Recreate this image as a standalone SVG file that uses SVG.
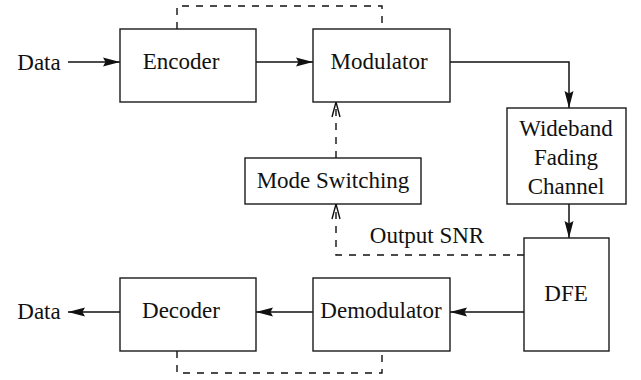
<svg xmlns="http://www.w3.org/2000/svg" width="641" height="380" viewBox="0 0 641 380">
<style>
.box{fill:#fff;stroke:#1a1a1a;stroke-width:1.4}
.t{font-family:"Liberation Serif","Times New Roman",serif;font-size:23px;fill:#111;text-anchor:middle}
.ln{fill:none;stroke:#111;stroke-width:1.5}
.ds{fill:none;stroke:#111;stroke-width:1.4;stroke-dasharray:7 7}
</style>
<defs>
<marker id="ah" markerWidth="18" markerHeight="12" refX="17" refY="6" orient="auto" markerUnits="userSpaceOnUse">
<path d="M0,1.5 L17,6 L0,10.5 L2.5,6 Z" fill="#111"/>
</marker>
<marker id="oh" markerWidth="18" markerHeight="12" refX="16" refY="6" orient="auto" markerUnits="userSpaceOnUse">
<path d="M1,2 L16,6 L1,10" fill="none" stroke="#111" stroke-width="1.4"/>
</marker>
</defs>
<g id="connectors">
<line class="ln" x1="68" y1="62" x2="120" y2="62" marker-end="url(#ah)"/>
<line class="ln" x1="256" y1="62" x2="313" y2="62" marker-end="url(#ah)"/>
<polyline class="ln" points="450,62 569,62 569,108" marker-end="url(#ah)"/>
<line class="ln" x1="569" y1="204" x2="569" y2="238" marker-end="url(#ah)"/>
<line class="ln" x1="524" y1="312" x2="450" y2="312" marker-end="url(#ah)"/>
<line class="ln" x1="313" y1="312" x2="256" y2="312" marker-end="url(#ah)"/>
<line class="ln" x1="120" y1="312" x2="68" y2="312" marker-end="url(#ah)"/>
<polyline class="ds" points="177,29 177,6 382,6 382,29"/>
<polyline class="ds" points="177,351 177,373 382,373 382,351"/>
<line class="ds" x1="336" y1="158" x2="336" y2="102" marker-end="url(#oh)"/>
<polyline class="ds" points="524,255 336,255 336,204" marker-end="url(#oh)"/>
</g>
<text class="t" x="39" y="70">Data</text>
<text class="t" x="39" y="319">Data</text>
<text class="t" x="427" y="243">Output SNR</text>
<g id="encoder"><rect class="box" x="120" y="29" width="136" height="73"/><text class="t" x="181" y="69">Encoder</text></g>
<g id="modulator"><rect class="box" x="313" y="29" width="137" height="73"/><text class="t" x="379" y="69">Modulator</text></g>
<g id="channel"><rect class="box" x="507" y="108" width="119" height="96"/><text class="t" x="566" y="136">Wideband</text><text class="t" x="566" y="165">Fading</text><text class="t" x="566" y="194">Channel</text></g>
<g id="mode"><rect class="box" x="245" y="158" width="176" height="46"/><text class="t" x="333" y="188">Mode Switching</text></g>
<g id="dfe"><rect class="box" x="524" y="238" width="85" height="113"/><text class="t" x="566" y="301">DFE</text></g>
<g id="demodulator"><rect class="box" x="313" y="278" width="137" height="73"/><text class="t" x="381" y="318">Demodulator</text></g>
<g id="decoder"><rect class="box" x="120" y="278" width="136" height="73"/><text class="t" x="181" y="318">Decoder</text></g>
</svg>
